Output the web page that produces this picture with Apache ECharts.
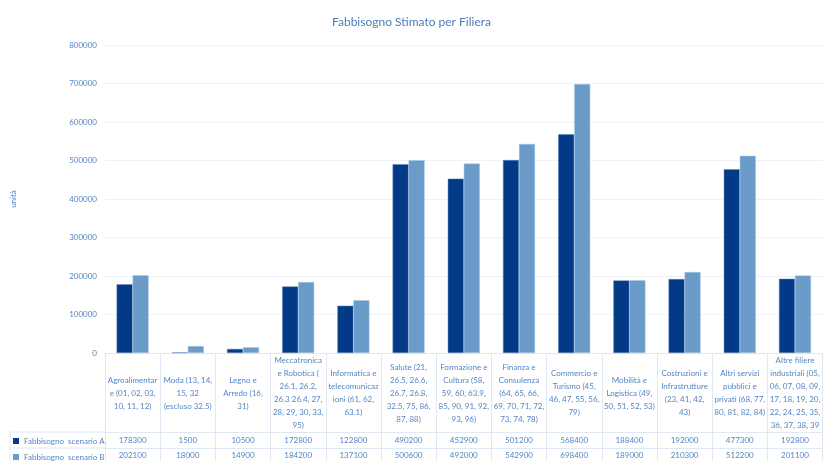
<!DOCTYPE html>
<html><head><meta charset="utf-8">
<script src="https://cdn.jsdelivr.net/npm/echarts@6/dist/echarts.min.js"></script>
<style>html,body{margin:0;padding:0;background:#fff}#c{width:823px;height:461px}</style>
</head><body><div id="c"></div>
<script>
const categories = [
  "Agroalimentar\ne (01, 02, 03,\n10, 11, 12)",
  "Moda (13, 14,\n15, 32\n(escluso 32.5)",
  "Legno e\nArredo (16,\n31)",
  "Meccatronica\ne Robotica (\n26.1, 26.2,\n26.3 26.4, 27,\n28, 29, 30, 33,\n95)",
  "Informatica e\ntelecomunicaz\nioni (61, 62,\n63.1)",
  "Salute (21,\n26.5, 26.6,\n26.7, 26.8,\n32.5, 75, 86,\n87, 88)",
  "Formazione e\nCultura (58,\n59, 60, 63.9,\n85, 90, 91, 92,\n93, 96)",
  "Finanza e\nConsulenza\n(64, 65, 66,\n69, 70, 71, 72,\n73, 74, 78)",
  "Commercio e\nTurismo (45,\n46, 47, 55, 56,\n79)",
  "Mobilità e\nLogistica (49,\n50, 51, 52, 53)",
  "Costruzioni e\nInfrastrutture\n(23, 41, 42,\n43)",
  "Altri servizi\npubblici e\nprivati (68, 77,\n80, 81, 82, 84)",
  "Altre filiere\nindustriali (05,\n06, 07, 08, 09,\n17, 18, 19, 20,\n22, 24, 25, 35,\n36, 37, 38, 39"
];
const seriesNames = ["Fabbisogno  scenario A", "Fabbisogno  scenario B"];
const scenarioA = [178300, 1500, 10500, 172800, 122800, 490200, 452900, 501200, 568400, 188400, 192000, 477300, 192800];
const scenarioB = [202100, 18000, 14900, 184200, 137100, 500600, 492000, 542900, 698400, 189000, 210300, 512200, 201100];
const title = "Fabbisogno Stimato per Filiera";
const yName = "unità";
const yMin = 0, yMax = 800000, yStep = 100000;

const FONT = "Lato";
const TXT = "#5585c5";
const LINE = "#dfe8f3";
const chart = echarts.init(document.getElementById('c'), null, {renderer:'canvas'});
const gridLeft = 105, gridTop = 45, gridBottom = 108;
const legendText = {fontFamily:FONT, fontSize:8, color:TXT};
chart.setOption({
  animation:false,
  textStyle:{fontFamily:FONT},
  title:{text:title, left:'center', top:11, textStyle:{fontFamily:FONT, fontSize:12, fontWeight:'normal', color:'#4a7ebb'}},
  legend:[
    {left:11, top:435, itemWidth:6, itemHeight:6, itemGap:2, icon:'rect', padding:[2,2,2,2],
     itemStyle:{borderWidth:0}, data:[seriesNames[0]], textStyle:legendText},
    {left:11, top:451, itemWidth:6, itemHeight:6, itemGap:2, icon:'rect', padding:[2,2,2,2],
     itemStyle:{borderWidth:0}, data:[seriesNames[1]], textStyle:legendText}
  ],
  grid:{left:gridLeft, right:-6, top:gridTop, bottom:gridBottom},
  xAxis:[
    {type:'category', data:categories, position:'bottom',
     axisLine:{lineStyle:{color:LINE}},
     axisTick:{show:true, length:110, lineStyle:{color:LINE}},
     axisLabel:{interval:0, margin:40, verticalAlign:'middle', fontFamily:FONT, fontSize:8, lineHeight:13, color:TXT}},
    {type:'category', data:scenarioA.map(String), position:'bottom', offset:79,
     axisLine:{lineStyle:{color:LINE}}, axisTick:{show:false},
     axisLabel:{interval:0, margin:8, verticalAlign:'middle', fontFamily:FONT, fontSize:8, color:TXT}},
    {type:'category', data:scenarioB.map(String), position:'bottom', offset:95,
     axisLine:{lineStyle:{color:LINE}}, axisTick:{show:false},
     axisLabel:{interval:0, margin:7, verticalAlign:'middle', fontFamily:FONT, fontSize:8, color:TXT}}
  ],
  yAxis:{type:'value', min:yMin, max:yMax, interval:yStep, name:yName, nameLocation:'middle', nameGap:88,
    nameTextStyle:{fontFamily:FONT, fontSize:8, color:TXT},
    axisLine:{show:false}, axisTick:{show:false},
    splitLine:{lineStyle:{color:'#eef3fa'}},
    axisLabel:{margin:8, fontFamily:FONT, fontSize:8, color:TXT, formatter:v => String(v)}},
  graphic:[
    {type:'line', shape:{x1:10, y1:432, x2:gridLeft, y2:432}, style:{stroke:LINE, lineWidth:1}},
    {type:'line', shape:{x1:10, y1:448, x2:gridLeft, y2:448}, style:{stroke:LINE, lineWidth:1}},
    {type:'line', shape:{x1:10, y1:432, x2:10, y2:461}, style:{stroke:LINE, lineWidth:1}}
  ],
  series:[
    {name:seriesNames[0], type:'bar', data:scenarioA, barGap:'0%', barCategoryGap:'42%',
     itemStyle:{color:'#023a87', borderColor:'#5f86bd', borderWidth:0.5}},
    {name:seriesNames[1], type:'bar', data:scenarioB,
     itemStyle:{color:'#6a9bc9', borderColor:'#a9c6e2', borderWidth:0.5}}
  ]
});
</script></body></html>
